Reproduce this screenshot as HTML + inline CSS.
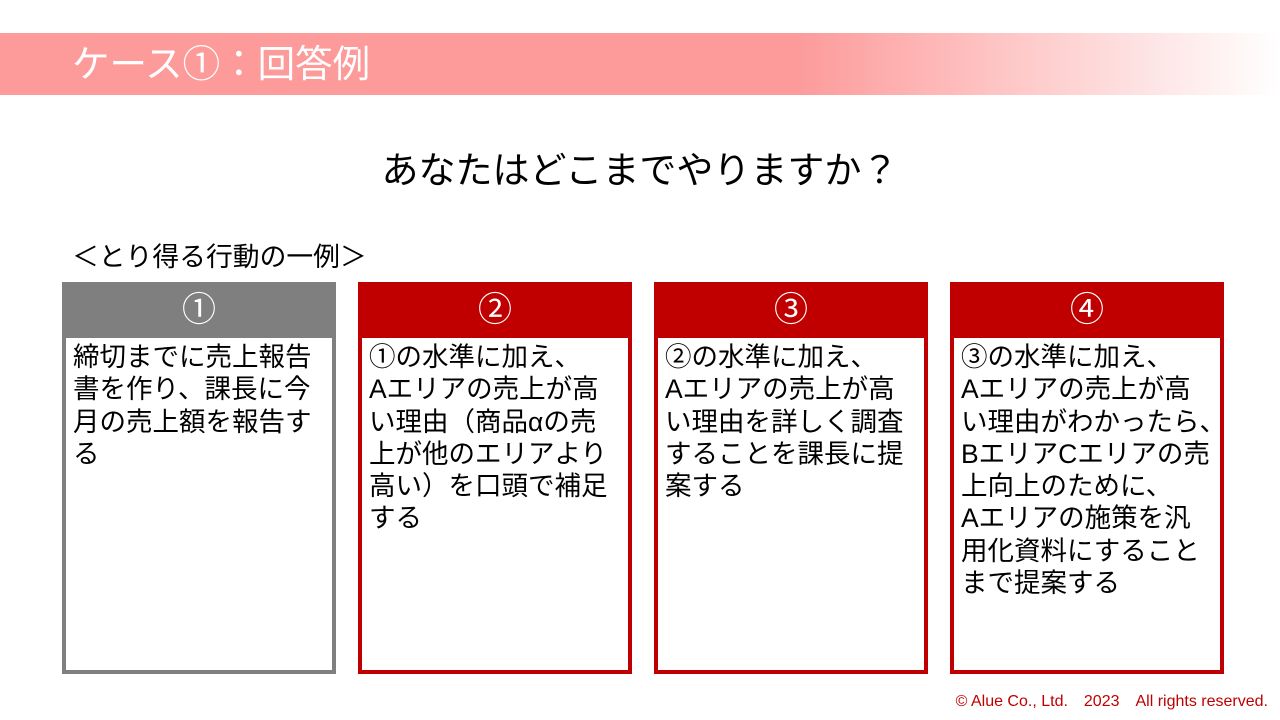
<!DOCTYPE html>
<html><head><meta charset="utf-8"><style>
body{margin:0;width:1280px;height:720px;background:#fff;position:relative;overflow:hidden;font-family:"Liberation Sans","Noto Sans CJK JP",sans-serif;}
.bar{position:absolute;left:0;top:33px;width:1280px;height:62px;background:linear-gradient(90deg,#fd9a9a 0%,#fd9a9a 62%,#fff 100%);}
.bar span{position:absolute;left:72px;top:8px;color:#fff;font-size:37.5px;line-height:46px;}
.q{position:absolute;left:0;width:1280px;top:140px;text-align:center;font-size:37px;color:#000;}
.sub{position:absolute;left:72px;top:235px;font-size:26.8px;}
.box{position:absolute;top:282px;width:274px;height:392px;box-sizing:border-box;border:4px solid #c00000;background:#fff;}
.box .h{position:absolute;left:-4px;top:-4px;width:274px;height:56px;background:#c00000;color:#fff;text-align:center;font-size:34px;line-height:56px;}
.box .t{position:absolute;left:7px;top:55px;font-size:26.5px;line-height:32.3px;color:#000;white-space:nowrap;letter-spacing:0;}
.g{border-color:#7f7f7f}.g .h{background:#7f7f7f}
.c{position:absolute;right:12px;top:687px;color:#c00000;font-size:16px;}
</style></head><body>
<div class="bar"><span>ケース①：回答例</span></div>
<div class="q">あなたはどこまでやりますか？</div>
<div class="sub">＜とり得る行動の一例＞</div>
<div class="box g" style="left:62px"><div class="h">①</div><div class="t">締切までに売上報告<br>書を作り、課長に今<br>月の売上額を報告す<br>る</div></div>
<div class="box" style="left:358px"><div class="h">②</div><div class="t">①の水準に加え、<br>Aエリアの売上が高<br>い理由（商品αの売<br>上が他のエリアより<br>高い）を口頭で補足<br>する</div></div>
<div class="box" style="left:654px"><div class="h">③</div><div class="t">②の水準に加え、<br>Aエリアの売上が高<br>い理由を詳しく調査<br>することを課長に提<br>案する</div></div>
<div class="box" style="left:950px"><div class="h">④</div><div class="t">③の水準に加え、<br>Aエリアの売上が高<br>い理由がわかったら、<br>BエリアCエリアの売<br>上向上のために、<br>Aエリアの施策を汎<br>用化資料にすること<br>まで提案する</div></div>
<div class="c">© Alue Co., Ltd.　2023　All rights reserved.</div>
</body></html>
